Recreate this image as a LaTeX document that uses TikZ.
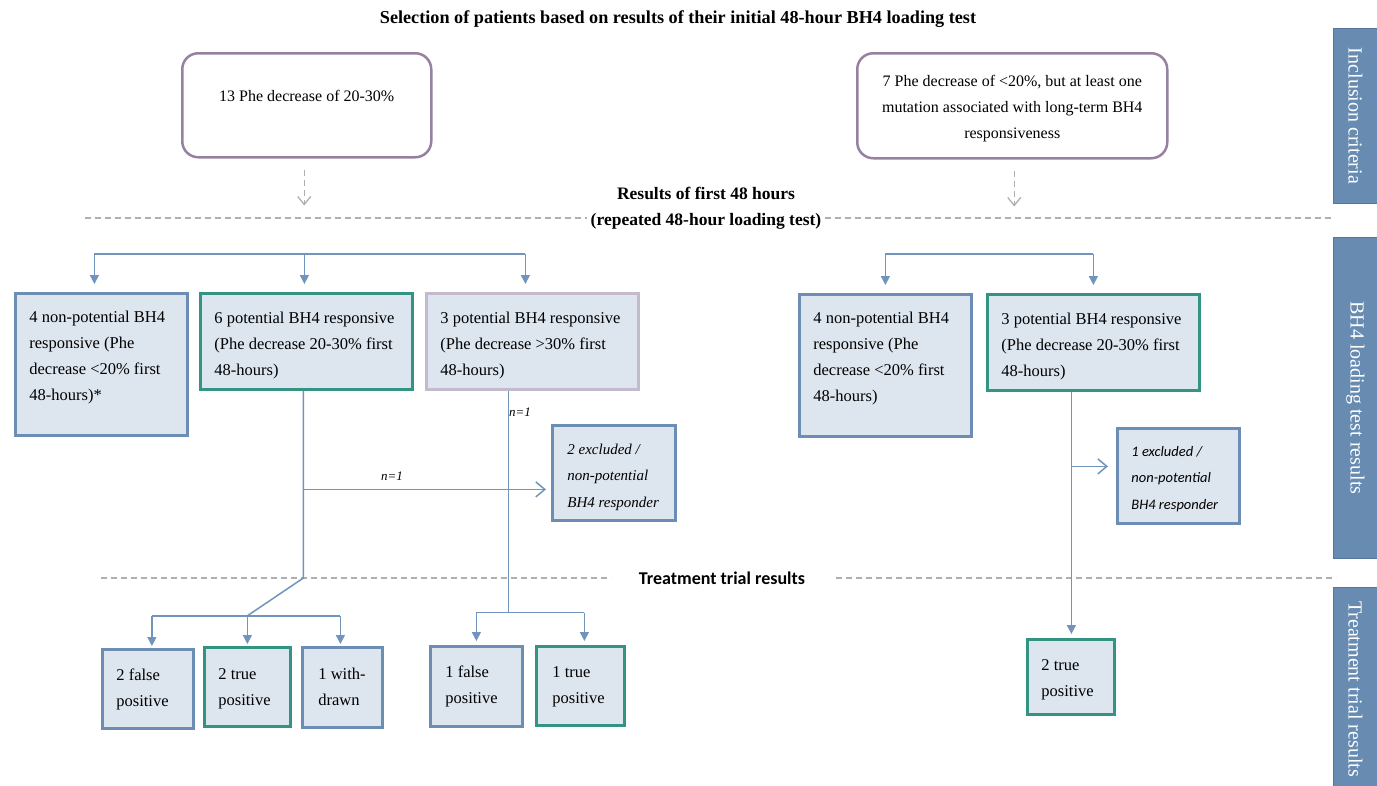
\documentclass[tikz,border=0pt]{standalone}
\usepackage{fontspec}
\setmainfont{Liberation Serif}
\newfontfamily\calfont{Carlito}
\usetikzlibrary{arrows.meta,calc}
\definecolor{bbd}{RGB}{108,142,181}
\definecolor{bfill}{RGB}{221,229,239}
\definecolor{tealbd}{RGB}{52,148,132}
\definecolor{purbd}{RGB}{150,130,160}
\definecolor{lpurbd}{RGB}{196,186,205}
\definecolor{lnc}{RGB}{112,148,188}
\definecolor{side}{RGB}{104,139,178}
\definecolor{sidebd}{RGB}{88,118,155}
\definecolor{dgrey}{RGB}{175,175,175}
\newcommand\bx[4]{\parbox[c][#2][t]{#1}{\raggedright\rule{0pt}{#3}#4}}
\newcommand\bxc[4]{\parbox[c][#2][t]{#1}{\centering\rule{0pt}{#3}#4}}
\tikzset{
  box/.style={draw=bbd, fill=bfill, line width=2.8pt, inner xsep=14pt, inner ysep=0pt, anchor=north west, font=\fontsize{16.5}{26}\selectfont},
  tbox/.style={box, draw=tealbd},
  pbox/.style={box, draw=lpurbd},
  rbox/.style={draw=purbd, fill=white, line width=2.5pt, rounded corners=16pt, inner xsep=10pt, inner ysep=0pt, anchor=north west, font=\fontsize{16}{26}\selectfont},
  sidebox/.style={draw=sidebd, fill=side, line width=1pt, anchor=north west, minimum width=44pt, inner sep=0pt, text=white, font=\fontsize{20}{24}\selectfont},
  ln/.style={draw=lnc, line width=1.5pt},
  arr/.style={ln, -{Triangle[width=9pt,length=9pt]}, shorten >=2pt},
  oarr/.style={ln, -{Straight Barb[length=9pt,width=15pt,line width=1.5pt]}},
  darr/.style={draw=dgrey, line width=1.3pt, dash pattern=on 6pt off 4pt, -{Straight Barb[length=8pt,width=13pt,line width=1.3pt]}},
  dsh/.style={draw=dgrey, line width=1.3pt, dash pattern=on 6pt off 4pt},
  lbl/.style={font=\fontsize{13}{15}\selectfont\itshape, inner sep=1pt},
}
\begin{document}
\begin{tikzpicture}[x=1pt,y=-1pt]
\useasboundingbox (0,0) rectangle (1377,785);

% title
\node[font=\fontsize{18.2}{21}\selectfont\bfseries] (title) at (678,19) {Selection of patients based on results of their initial 48-hour BH4 loading test};

% inclusion boxes
\node[rbox] (a) at (181,52) {\bxc{229pt}{104pt}{48pt}{13 Phe decrease of 20-30\%}};
\node[rbox] (b) at (856,52) {\bxc{290pt}{105pt}{33pt}{7 Phe decrease of <20\%, but at least one\\mutation associated with long-term BH4\\responsiveness}};

\draw[darr] ([xshift=-2.5pt,yshift=-11pt]a.south) -- ([xshift=-2.5pt,yshift=-47pt]a.south);
\draw[darr] ([xshift=2pt,yshift=-11pt]b.south) -- ([xshift=2pt,yshift=-47pt]b.south);

% dashed separators
\draw[dsh] (85,218) -- (1333,218);
\draw[dsh] (101,578) -- (611,578);
\draw[dsh] (836,578) -- (1336,578);

\node[fill=white, inner xsep=4pt, inner ysep=0pt, align=center, font=\fontsize{17.5}{26}\selectfont\bfseries] (res) at (706,208) {Results of first 48 hours\\(repeated 48-hour loading test)};
\node[font=\calfont\fontsize{18}{21}\selectfont\bfseries] (ttr) at (722,578) {Treatment trial results};

% side bars
\node[sidebox, minimum height=175pt] (s1) at (1333,28) {\rotatebox{-90}{Inclusion criteria}};
\node[sidebox, minimum height=321pt] (s2) at (1333,237) {\rotatebox{-90}{BH4 loading test results}};
\node[sidebox, minimum height=203pt] (s3) at (1333,587) {\rotatebox{-90}{Treatment trial results}};

% left loading test results
\node[box] (c1) at (14,292) {\bx{144pt}{142pt}{29pt}{4 non-potential BH4\\responsive (Phe\\decrease <20\% first\\48-hours)*}};
\node[tbox] (c2) at (199,292) {\bx{184pt}{96pt}{30pt}{6 potential BH4 responsive\\(Phe decrease 20-30\% first\\48-hours)}};
\node[pbox] (c3) at (425,292) {\bx{184pt}{96pt}{30pt}{3 potential BH4 responsive\\(Phe decrease >30\% first\\48-hours)}};
\node[box, inner xsep=15pt, font=\fontsize{15}{26.5}\selectfont\itshape] (ex1) at (551,424) {\bx{93pt}{95pt}{29pt}{2 excluded /\\non-potential\\BH4 responder}};

% right loading test results
\node[box] (d1) at (798,293) {\bx{144pt}{142pt}{29pt}{4 non-potential BH4\\responsive (Phe\\decrease <20\% first\\48-hours)}};
\node[tbox] (d2) at (986,293) {\bx{184pt}{96pt}{30pt}{3 potential BH4 responsive\\(Phe decrease 20-30\% first\\48-hours)}};
\node[box, font=\calfont\fontsize{14.5}{26.5}\selectfont\itshape] (ex2) at (1116,427) {\bx{94pt}{95pt}{28pt}{1 excluded /\\non-potential\\BH4 responder}};

% treatment trial results
\node[box, inner xsep=14pt] (f1) at (101,648) {\bx{63pt}{79pt}{31pt}{2 false\\positive}};
\node[tbox, inner xsep=14pt] (f2) at (203,646) {\bx{58pt}{79pt}{32pt}{2 true\\positive}};
\node[box, inner xsep=16pt] (f3) at (301,646) {\bx{48pt}{80pt}{32pt}{1 with-\\drawn}};
\node[box, inner xsep=15pt] (g1) at (429,645) {\bx{62pt}{80pt}{31pt}{1 false\\positive}};
\node[tbox, inner xsep=16pt] (g2) at (535,645) {\bx{56pt}{79pt}{31pt}{1 true\\positive}};
\node[tbox, inner xsep=14pt] (tp) at (1026,638) {\bx{59pt}{75pt}{31pt}{2 true\\positive}};

% left bracket
\coordinate (hubL) at (303,254);
\draw[ln] ([xshift=-7pt]c1.north |- hubL) -- ([xshift=-7pt]c3.north |- hubL);
\draw[arr, shorten >=8pt] ([xshift=-7pt]c1.north |- hubL) -- ([xshift=-7pt]c1.north);
\draw[arr, shorten >=8pt] ([xshift=-2pt]c2.north |- hubL) -- ([xshift=-2pt]c2.north);
\draw[arr, shorten >=8pt] ([xshift=-7pt]c3.north |- hubL) -- ([xshift=-7pt]c3.north);

% c2 branch
\coordinate (tt) at (302,578);
\coordinate (k1) at (247,616);
\coordinate (ex1w) at ([yshift=-16.5pt]ex1.west);
\draw[ln] ([xshift=-3pt]c2.south) -- ([xshift=-3pt]c2.south |- tt) -- (k1);
\draw[oarr, shorten >=5pt] ([xshift=-3pt]c2.south |- ex1w) -- (ex1w);
\node[lbl] (n1) at (392,476) {n=1};
\draw[ln] ([xshift=4pt]f1.north |- k1) -- ([xshift=-2pt]f3.north |- k1);
\draw[arr] ([xshift=4pt]f1.north |- k1) -- ([xshift=4pt]f1.north);
\draw[arr] (f2.north |- k1) -- (f2.north);
\draw[arr] ([xshift=-2pt]f3.north |- k1) -- ([xshift=-2pt]f3.north);

% c3 branch
\coordinate (k2) at (507,612.5);
\draw[ln] ([xshift=-24pt]c3.south) -- ([xshift=-24pt]c3.south |- k2);
\node[lbl] (n2) at (520,412) {n=1};
\draw[ln] (g1.north |- k2) -- ([xshift=4pt]g2.north |- k2);
\draw[arr, shorten >=4pt] (g1.north |- k2) -- (g1.north);
\draw[arr, shorten >=4pt] ([xshift=4pt]g2.north |- k2) -- ([xshift=4pt]g2.north);

% right bracket
\coordinate (hubR) at (990,254);
\draw[ln] (d1.north |- hubR) -- (d2.north |- hubR);
\draw[arr, shorten >=8pt] (d1.north |- hubR) -- (d1.north);
\draw[arr, shorten >=8pt] (d2.north |- hubR) -- (d2.north);

% d2 branch
\coordinate (ex2w) at ([yshift=9.5pt]ex2.west);
\draw[arr, shorten >=4pt] ([xshift=-22pt]d2.south) -- ([xshift=-22pt]d2.south |- tp.north);
\draw[oarr, shorten >=8pt] ([xshift=-22pt]d2.south |- ex2w) -- (ex2w);
\end{tikzpicture}
\end{document}
